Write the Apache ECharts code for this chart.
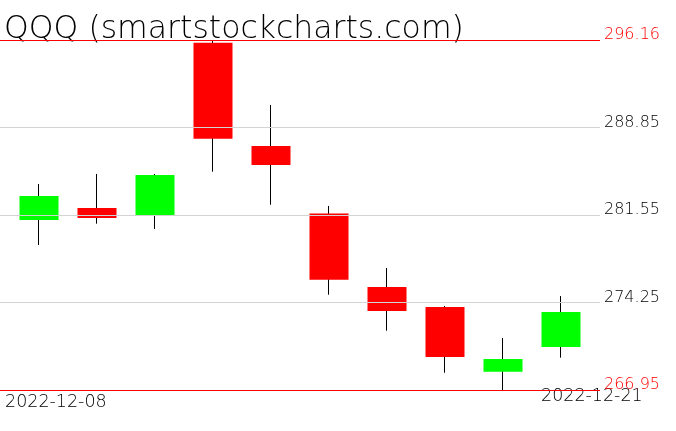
<!DOCTYPE html>
<html>
<head>
<meta charset="utf-8">
<script src="https://cdn.jsdelivr.net/npm/echarts@6/dist/echarts.min.js"></script>
<style>
html,body{margin:0;padding:0;background:#fff;}
#chart{width:676px;height:431px;}
</style>
</head>
<body>
<div id="chart"></div>
<script>
const titleText = "QQQ (smartstockcharts.com)";
const dates = ["2022-12-08","2022-12-09","2022-12-12","2022-12-13","2022-12-14","2022-12-15","2022-12-16","2022-12-19","2022-12-20","2022-12-21"];
const opens  = [281.14, 282.14, 281.55, 295.94, 287.31, 281.68, 275.55, 273.88, 268.48, 270.54];
const closes = [283.14, 281.30, 284.89, 287.92, 285.73, 276.16, 273.54, 269.70, 269.54, 273.46];
const highs  = [284.14, 284.98, 284.98, 296.16, 290.74, 282.31, 277.13, 273.96, 271.29, 274.79];
const lows   = [279.05, 280.83, 280.39, 285.17, 282.41, 274.90, 271.90, 268.39, 266.95, 269.65];
const priceMin = 266.95;
const priceMax = 296.16;
const gridTicks = [288.85, 281.55, 274.25];

const FONT = "'DejaVu Sans', sans-serif";

const wickData = dates.map((d, i) => [opens[i], closes[i], lows[i], highs[i]]);
const bodyData = dates.map((d, i) => [opens[i], closes[i], Math.min(opens[i], closes[i]), Math.max(opens[i], closes[i])]);

function lineLabel(color) {
  return {
    show: true, position: 'end', distance: 4,
    formatter: p => p.value.toFixed(2),
    color: color, fontFamily: FONT, fontSize: 16, fontWeight: 200,
    verticalAlign: 'bottom', lineHeight: 10
  };
}

const markData = [
  { yAxis: priceMax, lineStyle: { color: '#ff0000', width: 1, type: 'solid' }, label: lineLabel('#ff0000') },
  ...gridTicks.map(v => ({ yAxis: v, lineStyle: { color: '#d3d3d3', width: 1, type: 'solid' }, label: lineLabel('#000000') })),
  { yAxis: priceMin, lineStyle: { color: '#ff0000', width: 1, type: 'solid' }, label: lineLabel('#ff0000') }
];

const chart = echarts.init(document.getElementById('chart'), null, { renderer: 'canvas' });
chart.setOption({
  backgroundColor: '#ffffff',
  animation: false,
  grid: [
    { left: 10, width: 580, top: 40, height: 350 },
    { left: 0, width: 600, top: 40, height: 350 }
  ],
  xAxis: [
    { type: 'category', gridIndex: 0, data: dates, boundaryGap: true, show: false },
    { type: 'value', gridIndex: 1, min: 0, max: 1, show: false }
  ],
  yAxis: [
    { type: 'value', gridIndex: 0, min: priceMin, max: priceMax, show: false, splitLine: { show: false } },
    { type: 'value', gridIndex: 1, min: priceMin, max: priceMax, show: false, splitLine: { show: false } }
  ],
  graphic: [
    { type: 'text', left: 4, top: 14, style: { text: titleText, font: "200 31.5px 'DejaVu Sans'", fill: '#000' } },
    { type: 'text', left: 5, top: 393, style: { text: dates[0], font: "200 17.5px 'DejaVu Sans'", fill: '#000' } },
    { type: 'text', left: 541, top: 387, style: { text: dates[dates.length - 1], font: "200 17.5px 'DejaVu Sans'", fill: '#000' } }
  ],
  series: [
    {
      type: 'candlestick', xAxisIndex: 0, yAxisIndex: 0, data: wickData, barWidth: 1, z: 2,
      itemStyle: { color: '#000', color0: '#000', borderColor: '#000', borderColor0: '#000', borderWidth: 1 },
      silent: true
    },
    {
      type: 'candlestick', xAxisIndex: 0, yAxisIndex: 0, data: bodyData, barWidth: 40, z: 3,
      itemStyle: { color: '#00ff00', color0: '#ff0000', borderColor: '#00ff00', borderColor0: '#ff0000', borderWidth: 0 },
      silent: true
    },
    {
      type: 'line', xAxisIndex: 1, yAxisIndex: 1, data: [], z: 4, silent: true,
      markLine: { silent: true, symbol: ['none', 'none'], data: markData, animation: false }
    }
  ]
});
</script>
</body>
</html>
